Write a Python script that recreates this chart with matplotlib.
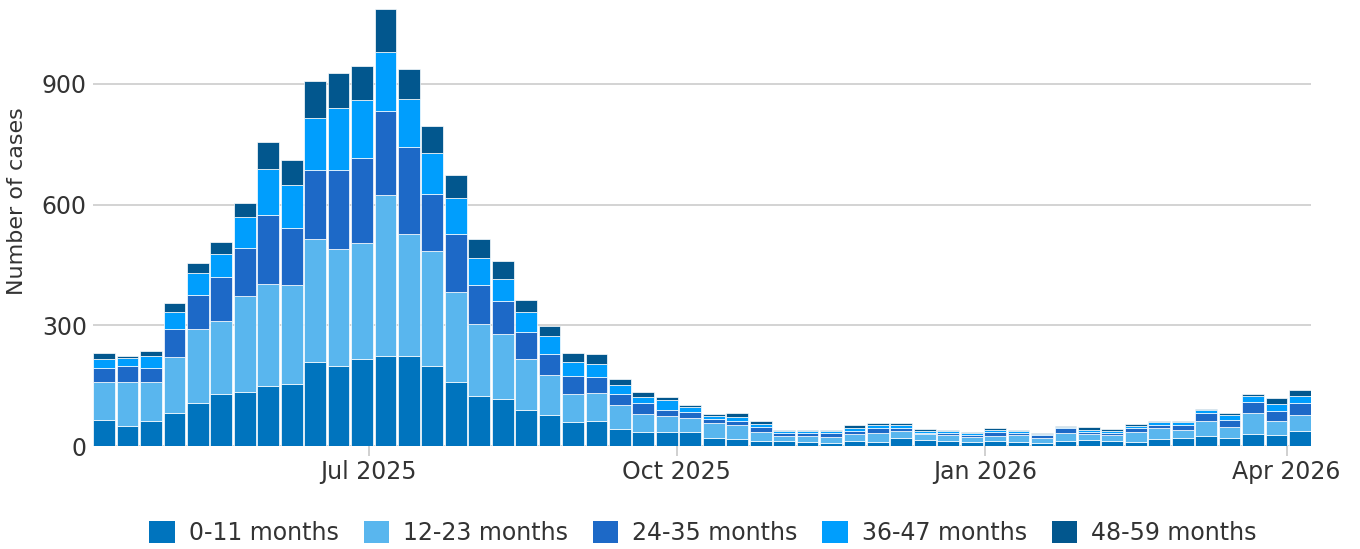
import matplotlib
matplotlib.use("Agg")
import matplotlib.pyplot as plt
import matplotlib.dates as mdates
from matplotlib.patches import Patch
import numpy as np
import pandas as pd

# Weekly case counts by age group (week starting dates)
weeks = pd.date_range("2025-04-13", periods=52, freq="7D")

age_groups = ["0-11 months", "12-23 months", "24-35 months", "36-47 months", "48-59 months"]

cases_0_11 = [65, 50, 61, 82, 106, 130, 135, 149, 154, 208, 199, 216, 224, 224, 199, 159,
              125, 118, 89, 76, 59, 62, 42, 34, 34, 36, 19, 17, 13, 13, 11, 8,
              12, 10, 19, 15, 13, 11, 13, 9, 8, 13, 15, 12, 11, 18, 20, 26,
              19, 31, 27, 38]
cases_12_23 = [93, 108, 99, 140, 186, 181, 238, 254, 245, 306, 291, 288, 399, 302, 286, 223,
               177, 160, 128, 100, 71, 70, 61, 46, 40, 33, 37, 35, 23, 12, 14, 15,
               17, 23, 19, 14, 14, 12, 13, 18, 11, 20, 15, 15, 25, 26, 20, 36,
               27, 51, 36, 40]
cases_24_35 = [37, 41, 35, 69, 83, 109, 120, 170, 142, 172, 196, 212, 209, 218, 141, 145,
               99, 82, 66, 52, 43, 40, 26, 28, 16, 16, 11, 10, 10, 7, 8, 9,
               8, 11, 6, 4, 6, 4, 9, 5, 8, 11, 5, 5, 8, 8, 12, 19,
               19, 28, 25, 28]
cases_36_47 = [21, 19, 29, 43, 55, 57, 77, 115, 108, 129, 155, 143, 148, 118, 101, 89,
               65, 55, 49, 45, 35, 31, 23, 15, 24, 12, 8, 11, 8, 5, 4, 5,
               8, 8, 9, 5, 4, 5, 5, 5, 3, 4, 6, 6, 6, 8, 8, 8,
               13, 15, 17, 19]
cases_48_59 = [14, 6, 12, 22, 25, 29, 34, 68, 61, 91, 87, 86, 105, 75, 69, 57,
               49, 46, 32, 24, 22, 25, 15, 12, 8, 5, 5, 8, 8, 3, 3, 4,
               6, 4, 4, 4, 2, 3, 4, 4, 2, 2, 5, 4, 4, 2, 2, 3,
               5, 4, 14, 15]

series = [cases_0_11, cases_12_23, cases_24_35, cases_36_47, cases_48_59]
colors = ["#0074BE", "#59B6EE", "#1D69C7", "#009EFD", "#02578E"]

tick_dates = pd.to_datetime(["2025-07-01", "2025-10-01", "2026-01-01", "2026-04-01"])
tick_labels = ["Jul 2025", "Oct 2025", "Jan 2026", "Apr 2026"]
y_ticks = [0, 300, 600, 900]

plt.rcParams["font.family"] = ["DejaVu Sans"]
text_color = "#333333"
grid_color = "#d3d3d3"
fs = 17

W, H = 1360, 549
fig = plt.figure(figsize=(W / 100, H / 100), dpi=100)
left_px, right_px, top_px, bottom_px = 93, 1311, 7, 446
ax = fig.add_axes([left_px / W, 1 - bottom_px / H,
                   (right_px - left_px) / W, (bottom_px - top_px) / H])

x = mdates.date2num(weeks)
bottom = np.zeros(len(weeks))
for vals, col in zip(series, colors):
    vals = np.asarray(vals, dtype=float)
    ax.bar(x, vals, width=6.5, bottom=bottom, color=col,
           edgecolor="white", linewidth=0.5, zorder=3)
    bottom += vals

ax.set_xlim(x[0] - 3.3, x[-1] + 3.3)
ax.set_ylim(0, 1091)

ax.set_yticks(y_ticks)
ax.set_yticklabels([str(v) for v in y_ticks])
ax.yaxis.grid(True, color=grid_color, linewidth=1.4, zorder=0)
ax.tick_params(axis="y", length=0, pad=4.5, labelsize=fs, labelcolor=text_color)

ax.set_xticks(mdates.date2num(tick_dates))
ax.set_xticklabels(tick_labels)
ax.tick_params(axis="x", length=7, width=1.2, color="#c8c8c8", pad=3,
               labelsize=fs, labelcolor=text_color)

for side in ["top", "right", "left", "bottom"]:
    ax.spines[side].set_visible(False)

fig.text(17 / W, 1 - 201 / H, "Number of cases", rotation=90, fontsize=16,
         color=text_color, ha="center", va="center")

handles = [Patch(facecolor=c, edgecolor="none", label=l) for c, l in zip(colors, age_groups)]
fig.legend(handles=handles, loc="center", bbox_to_anchor=(703 / W, 1 - 533 / H), ncol=5,
           frameon=False, fontsize=fs, handlelength=1.07, handleheight=1.1,
           handletextpad=0.6, columnspacing=1.05, labelcolor=text_color)

fig.savefig("out.png", dpi=100)
